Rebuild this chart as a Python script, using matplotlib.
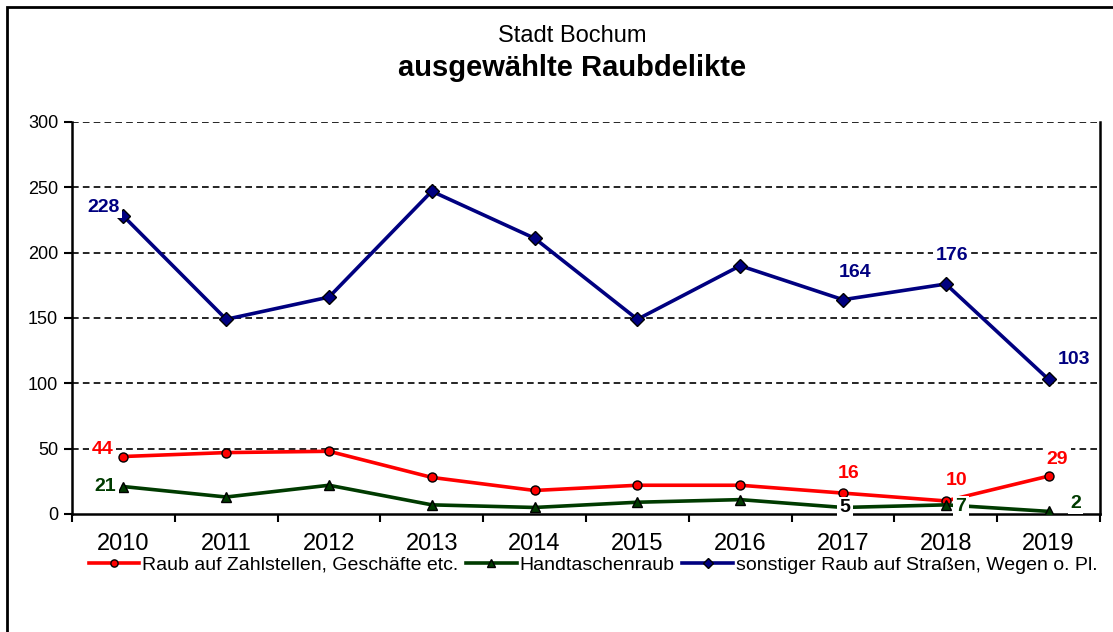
import matplotlib.pyplot as plt
from matplotlib.patches import Rectangle

plt.rcParams['font.family'] = ['Liberation Sans', 'DejaVu Sans']

years = ['2010', '2011', '2012', '2013', '2014', '2015', '2016', '2017', '2018', '2019']
zahlstellen = [44, 47, 48, 28, 18, 22, 22, 16, 10, 29]
handtaschen = [21, 13, 22, 7, 5, 9, 11, 5, 7, 2]
strassen = [228, 149, 166, 247, 211, 149, 190, 164, 176, 103]

names = ['Raub auf Zahlstellen, Geschäfte etc.', 'Handtaschenraub',
         'sonstiger Raub auf Straßen, Wegen o. Pl.']
colors = ['#ff0000', '#003b00', '#000080']

fig = plt.figure(figsize=(11.13, 6.32), dpi=100)
ax = fig.add_axes([72 / 1113, 118 / 632, 1028 / 1113, 392 / 632])

x = list(range(len(years)))
ax.plot(x, zahlstellen, color=colors[0], lw=2.6, marker='o', ms=6.5,
        mfc=colors[0], mec='black', mew=1.0, label=names[0], zorder=4)
ax.plot(x, handtaschen, color=colors[1], lw=2.6, marker='^', ms=7,
        mfc=colors[1], mec='black', mew=1.0, label=names[1], zorder=4)
ax.plot(x, strassen, color=colors[2], lw=2.6, marker='D', ms=7,
        mfc=colors[2], mec='black', mew=1.0, label=names[2], zorder=4)

ax.set_xlim(-0.5, 9.5)
ax.set_ylim(0, 300)
ax.set_yticks(range(0, 301, 50))
ax.set_xticks(x)
ax.set_xticklabels(years, fontsize=17)
ax.set_xticks([i - 0.5 for i in range(11)], minor=True)
ax.tick_params(axis='x', which='major', length=0, pad=14)
ax.tick_params(axis='x', which='minor', length=6, width=1.5, direction='out')
ax.tick_params(axis='y', labelsize=13, length=6, width=1.5, direction='out', pad=4)

for v in range(50, 301, 50):
    ax.axhline(v, color='black', lw=1.2, ls=(0, (4, 2.5)), zorder=1)

ax.spines['top'].set_visible(False)
for s in ['left', 'bottom', 'right']:
    ax.spines[s].set_linewidth(1.8)

# value labels: (series, index, dx, dy, colour)
labels = [
    (strassen, 0, -20, 9, colors[2]),
    (strassen, 7, 12, 27, colors[2]),
    (strassen, 8, 6, 29, colors[2]),
    (strassen, 9, 25, 20, colors[2]),
    (zahlstellen, 0, -21, 7, colors[0]),
    (zahlstellen, 7, 6, 20, colors[0]),
    (zahlstellen, 8, 11, 20, colors[0]),
    (zahlstellen, 9, 9, 17, colors[0]),
    (handtaschen, 0, -18, 0, colors[1]),
    (handtaschen, 7, 2, 0, 'black'),
    (handtaschen, 8, 15, -2, colors[1]),
    (handtaschen, 9, 27, 8, colors[1]),
]
for series, i, dx, dy, c in labels:
    ax.annotate(str(series[i]), (i, series[i]), xytext=(dx, dy),
                textcoords='offset pixels', ha='center', va='center',
                fontsize=14, fontweight='bold', color=c, zorder=6,
                bbox=dict(boxstyle='square,pad=0.12', fc='white', ec='none'))

fig.text(572 / 1113, 1 - 36 / 632, 'Stadt Bochum', ha='center', va='center',
         fontsize=17)
fig.text(572 / 1113, 1 - 68 / 632, 'ausgewählte Raubdelikte', ha='center',
         va='center', fontsize=21, fontweight='bold')

fig.legend(loc='center', bbox_to_anchor=(593 / 1113, 1 - 565 / 632), ncol=3,
           frameon=False, fontsize=14, handlelength=2.6, handletextpad=0.15,
           columnspacing=0.4, markerscale=0.8)

# outer frame (left and top edges)
fig.add_artist(Rectangle((7 / 1113, -0.1), 1.2, 1.1 - 7 / 632,
                         transform=fig.transFigure, fill=False,
                         ec='black', lw=2))

fig.savefig('out.png', dpi=100)
